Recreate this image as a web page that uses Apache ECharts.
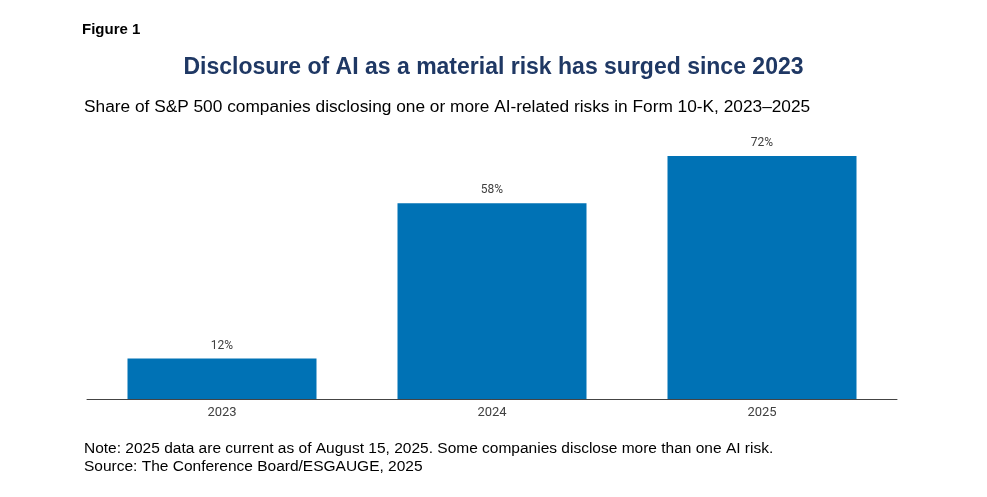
<!DOCTYPE html>
<html>
<head>
<meta charset="utf-8">
<title>Disclosure of AI as a material risk</title>
<script src="https://cdn.jsdelivr.net/npm/echarts@6/dist/echarts.min.js"></script>
<style>
  html, body { margin: 0; padding: 0; background: #fff; }
  #chart { width: 987px; height: 497px; }
</style>
</head>
<body>
<div id="chart"></div>
<script>
// data
var years = ['2023', '2024', '2025'];
var shares = [12, 58, 72];

var chart = echarts.init(document.getElementById('chart'));

chart.setOption({
    animation: false,
    title: [
        {
            text: 'Figure 1',
            left: 77, top: 17,
            textStyle: { fontFamily: 'Liberation Sans', fontSize: 15, fontWeight: 'bold', color: '#000' }
        },
        {
            text: 'Disclosure of AI as a material risk has surged since 2023',
            left: 'center', top: 51,
            textStyle: { fontFamily: 'Liberation Sans', fontSize: 23, fontWeight: 'bold', color: '#1f3864' }
        },
        {
            text: 'Share of S&P 500 companies disclosing one or more AI-related risks in Form 10-K, 2023\u20132025',
            left: 79, top: 94,
            textStyle: { fontFamily: 'Liberation Sans', fontSize: 17.3, fontWeight: 'normal', color: '#000' }
        },
        {
            text: 'Note: 2025 data are current as of August 15, 2025. Some companies disclose more than one AI risk.\nSource: The Conference Board/ESGAUGE, 2025',
            left: 79, top: 435,
            textStyle: { fontFamily: 'Liberation Sans', fontSize: 15.5, fontWeight: 'normal', color: '#000', lineHeight: 18 }
        }
    ],
    grid: { left: 87, right: 90, top: 129, bottom: 98 },
    xAxis: {
        type: 'category',
        data: years,
        axisLine: { lineStyle: { color: '#444', width: 1 } },
        axisTick: { show: false },
        axisLabel: { color: '#404040', fontFamily: 'Roboto', fontSize: 13, margin: 7 }
    },
    yAxis: {
        type: 'value',
        min: 0, max: 80,
        show: false
    },
    series: [{
        type: 'bar',
        data: shares,
        barWidth: '70%',
        itemStyle: { color: '#0072b5' },
        label: {
            show: true,
            position: 'top',
            distance: 7,
            formatter: '{c}%',
            color: '#404040',
            fontFamily: 'Roboto',
            fontSize: 12
        }
    }]
});
</script>
</body>
</html>
